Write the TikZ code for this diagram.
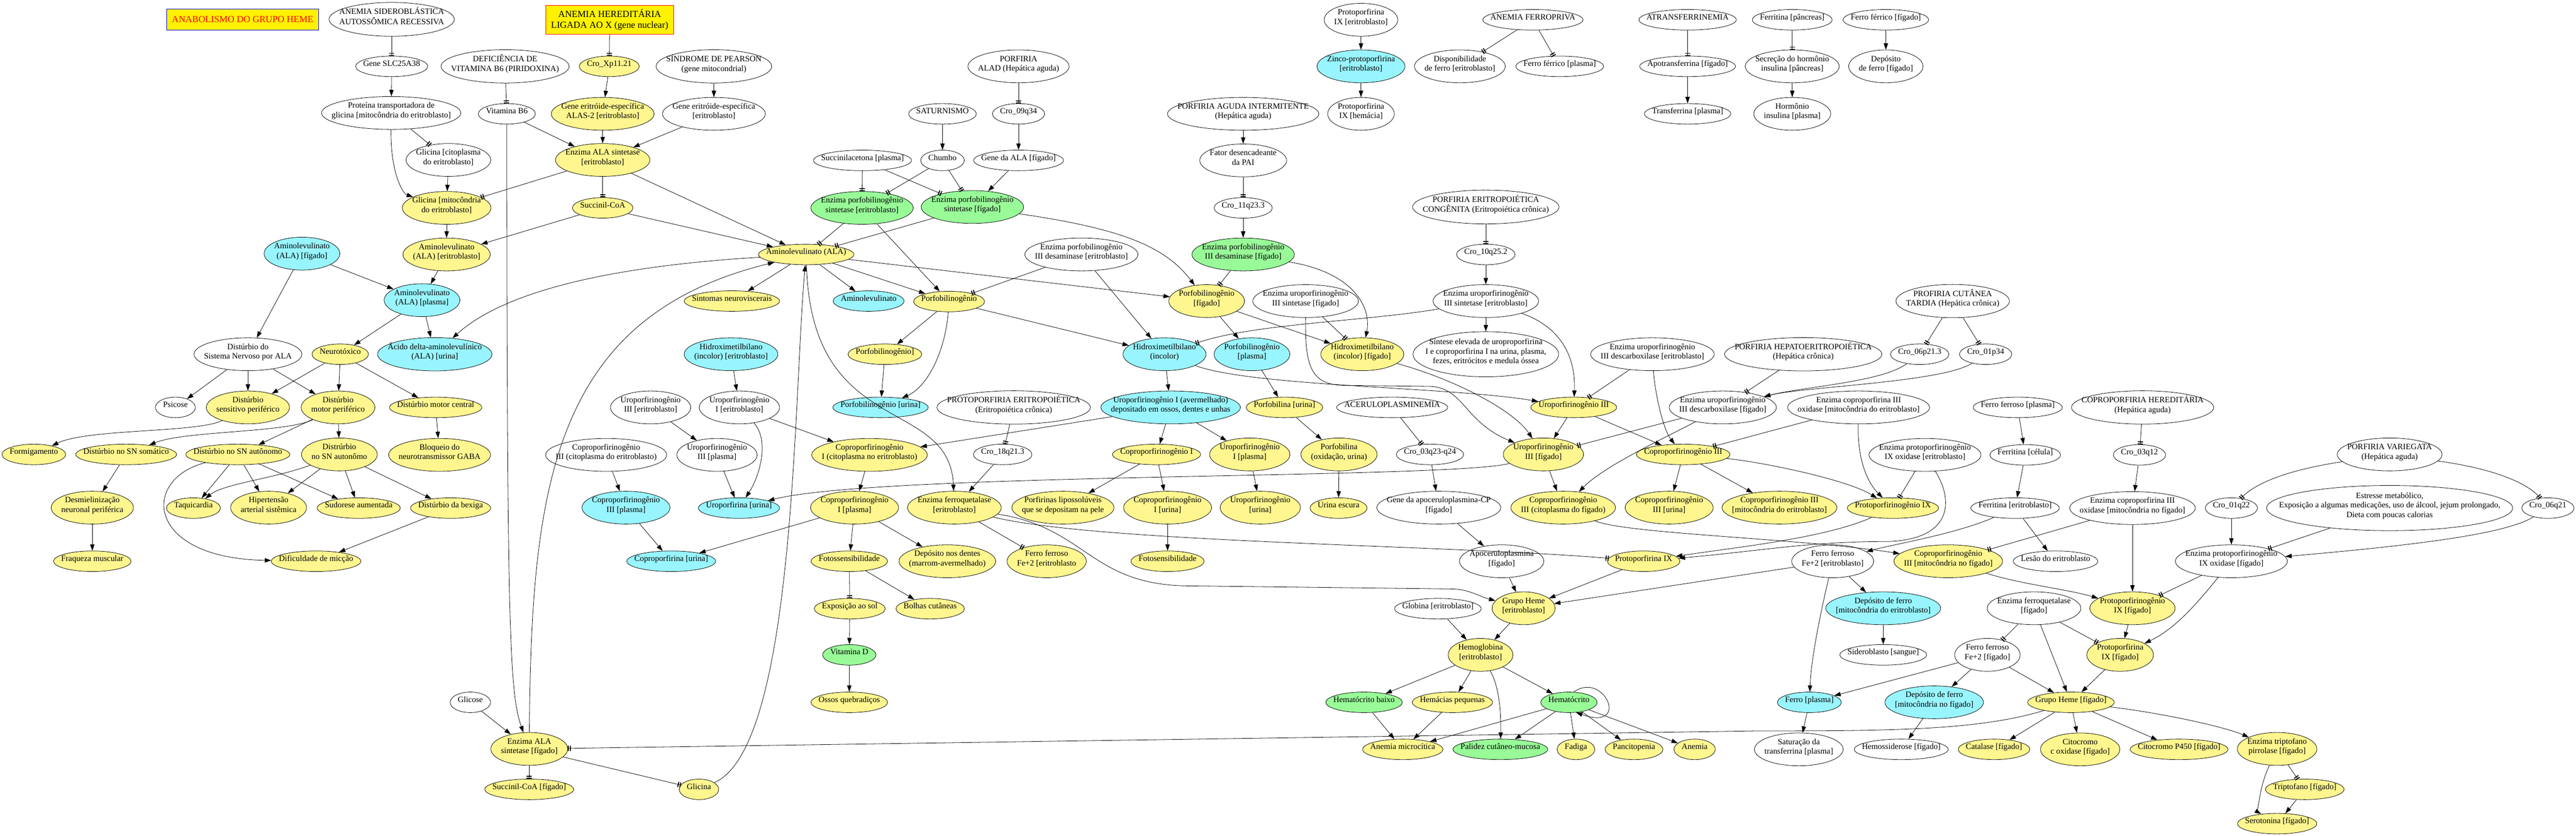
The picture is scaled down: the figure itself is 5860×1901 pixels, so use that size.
\documentclass[tikz,border=0pt]{standalone}
\usepackage{fontspec}
\setmainfont{Liberation Serif}
\usepackage{tikz}
\usetikzlibrary{arrows.meta,shapes.geometric}
\definecolor{khaki}{HTML}{FFF68F}
\definecolor{azul}{HTML}{98F5FF}
\definecolor{verde}{HTML}{98FB98}
\newsavebox{\gvbox}
\newlength{\gvw}
\newlength{\gvh}
\newlength{\gvr}
% texto do no: mede as linhas e fixa a elipse (como no graphviz)
\newcommand{\elbody}[1]{%
  \setbox\gvbox\hbox{\begin{tabular}{@{}c@{}}#1\end{tabular}}%
  \global\gvr=\dimexpr\ht\gvbox+\dp\gvbox\relax
  \global\gvw=\dimexpr\wd\gvbox+18pt+\gvr/2\relax
  \global\gvh=\dimexpr14pt+\gvr*129/100\relax
  \makebox[0pt]{\raisebox{\dimexpr(\dp\gvbox-\ht\gvbox)/2\relax}[0pt][0pt]{\box\gvbox}}%
}
\newcommand{\elnode}[4][]{%
  \node[gvn, #1, minimum width=\gvw, minimum height=\gvh] (#2) at (#3) {\elbody{#4}};%
}
\tikzset{gvn/.style={ellipse, draw=black, line width=0.7pt, inner sep=0pt,
            font=\fontsize{14pt}{16.3pt}\selectfont},
         am/.style={fill=khaki}, az/.style={fill=azul}, vd/.style={fill=verde},
         arr/.style={line width=0.7pt, -{Triangle[length=11pt,width=7.5pt]}},
         tee2/.style={line width=0.7pt,
            -{Bar[width=9pt,line width=1.6pt,sep=2pt]Bar[width=9pt,line width=1.6pt]}},
         caixa/.style={rectangle, fill=yellow, inner xsep=9pt, align=center,
            font=\fontsize{16pt}{18.6pt}\selectfont}}

\begin{document}
\fontsize{14pt}{16.3pt}\selectfont
\begin{tikzpicture}[x=0.75pt, y=-0.75pt]
\path[use as bounding box, fill=white] (0,0) rectangle (5860,1901);

\node[caixa, draw=blue, text=red, minimum height=36pt] (titulo) at (552,44) {ANABOLISMO DO GRUPO HEME};
\node[caixa, draw=red, inner ysep=7pt] (anhx) at (1387,45) {ANEMIA HEREDITÁRIA\\LIGADA AO X (gene nuclear)};

% sistema nervoso
\elnode{asar}{891,44}{ANEMIA SIDEROBLÁSTICA\\AUTOSSÔMICA RECESSIVA}
\elnode{slc}{891,151}{Gene SLC25A38}
\elnode{ptg}{890,257}{Proteína transportadora de\\glicina [mitocôndria do eritroblasto]}
\elnode{glic}{1020,364}{Glicina [citoplasma\\do eritroblasto]}
\elnode[am]{glim}{1016,473}{Glicina [mitocôndria\\do eritroblasto]}
\elnode[am]{alae}{1016,579}{Aminolevulinato\\(ALA) [eritroblasto]}
\elnode[az]{alaf}{687,577}{Aminolevulinato\\(ALA) [fígado]}
\elnode[az]{alap}{960,683}{Aminolevulinato\\(ALA) [plasma]}
\elnode[az]{alau}{989,806}{Ácido delta-aminolevulínico\\(ALA) [urina]}
\elnode{dsn}{564,806}{Distúrbio do\\Sistema Nervoso por ALA}
\elnode[am]{neuro}{774,806}{Neurotóxico}
\elnode{psic}{399,927}{Psicose}
\elnode[am]{dsp}{564,927}{Distúrbio\\sensitivo periférico}
\elnode[am]{dmp}{769,927}{Distúrbio\\motor periférico}
\elnode[am]{dmc}{991,927}{Distúrbio motor central}
\elnode[am]{gaba}{1000,1035}{Bloqueio do\\neurotransmissor GABA}
\elnode[am]{form}{77,1034}{Formigamento}
\elnode[am]{snsom}{287,1034}{Distúrbio no SN somático}
\elnode[am]{snaut}{541,1034}{Distúrbio no SN autônomo}
\elnode[am]{snaut2}{772,1034}{Distrúrbio\\no SN autonômo}
\elnode[am]{desm}{210,1155}{Desmielinização\\neuronal periférica}
\elnode[am]{fraq}{210,1277}{Fraqueza muscular}
\elnode[am]{taqui}{440,1156}{Taquicardia}
\elnode[am]{hiper}{611,1155}{Hipertensão\\arterial sistêmica}
\elnode[am]{sudor}{816,1156}{Sudorese aumentada}
\elnode[am]{bexiga}{1025,1156}{Distúrbio da bexiga}
\elnode[am]{miccao}{719,1277}{Dificuldade de micção}

% ALA sintetase
\elnode{defb6}{1149,151}{DEFICIÊNCIA DE\\VITAMINA B6 (PIRIDOXINA)}
\elnode[am]{croxp}{1386,151}{Cro\_Xp11.21}
\elnode{pearson}{1624,151}{SÍNDROME DE PEARSON\\(gene mitocondrial)}
\elnode{vitb6}{1153,259}{Vitamina B6}
\elnode[am]{alas2}{1371,259}{Gene eritróide-específica\\ALAS-2 [eritroblasto]}
\elnode{geneer}{1624,259}{Gene eritróide-específica\\{}[eritroblasto]}
\elnode[am]{alase}{1371,364}{Enzima ALA sintetase\\{}[eritroblasto]}
\elnode[am]{succ}{1371,473}{Succinil-CoA}
\elnode[am]{ala}{1834,579}{Aminolevulinato (ALA)}
\elnode[am]{sintneuro}{1665,685}{Sintomas neuroviscerais}
\elnode[az]{alacy}{1976,685}{Aminolevulinato}
\elnode{succac}{1962,365}{Succinilacetona [plasma]}
\elnode[vd]{pbgse}{1961,473}{Enzima porfobilinogênio\\sintetase [eritroblasto]}
\elnode[az]{hmbe}{1663,806}{Hidroximetilbilano\\(incolor) [eritroblasto]}
\elnode{uro3e}{1480,927}{Uroporfirinogênio\\III [eritroblasto]}
\elnode{uro1e}{1682,927}{Uroporfirinogênio\\I [eritroblasto]}
\elnode[am]{pbgb}{2013,806}{Porfobilinogênio]}
\elnode[az]{pbgu}{2003,927}{Porfobilinogênio [urina]}
\elnode{copro3ce}{1379,1035}{Coproporfirinogênio\\III (citoplasma do eritroblasto)}
\elnode{uro3p}{1631,1035}{Uroporfirinogênio\\III [plasma]}
\elnode[az]{copro3p}{1424,1155}{Coproporfirinogênio\\III [plasma]}
\elnode[az]{uroporf}{1681,1156}{Uroporfirina [urina]}
\elnode[az]{coproporf}{1527,1277}{Coproporfirina [urina]}
\elnode[am]{copro1ce}{1978,1035}{Coproporfirinogênio\\I (citoplasma no eritroblasto)}
\elnode[am]{copro1p}{1944,1155}{Coproporfirinogênio\\I [plasma]}
\elnode[am]{fotos}{1932,1277}{Fotossensibilidade}
\elnode[am]{expsol}{1933,1385}{Exposição ao sol}
\elnode[vd]{vitd}{1932,1490}{Vitamina D}
\elnode[am]{ossos}{1932,1598}{Ossos quebradiços}
\elnode[am]{dentes}{2155,1277}{Depósito nos dentes\\(marrom-avermelhado)}
\elnode[am]{bolhas}{2116,1385}{Bolhas cutâneas}
\elnode{glicose}{1070,1598}{Glicose}
\elnode[am]{alasf}{1204,1704}{Enzima ALA\\sintetase [fígado]}
\elnode[am]{succf}{1204,1796}{Succinil-CoA [fígado]}
\elnode[am]{glicina}{1590,1796}{Glicina}

% porfobilinogenio
\elnode{alad}{2317,151}{PORFIRIA\\ALAD (Hepática aguda)}
\elnode{satur}{2144,259}{SATURNISMO}
\elnode{cro09}{2317,259}{Cro\_09q34}
\elnode{chumbo}{2144,365}{Chumbo}
\elnode{genealaf}{2317,365}{Gene da ALA [fígado]}
\elnode[vd]{pbgsf}{2212,471}{Enzima porfobilinogênio\\sintetase [fígado]}
\elnode[am]{pbg}{2159,686}{Porfobilinogênio}
\elnode{pbgde}{2460,579}{Enzima porfobilinogênio\\III desaminase [eritroblasto]}
\elnode[am]{pbgf}{2745,685}{Porfobilinogênio\\{}[fígado]}
\elnode{pai}{2828,259}{PORFIRIA AGUDA INTERMITENTE\\(Hepática aguda)}
\elnode{fator}{2828,365}{Fator desencadeante\\da PAI}
\elnode{cro11}{2828,473}{Cro\_11q23.3}
\elnode[vd]{pbgdf}{2828,579}{Enzima porfobilinogênio\\III desaminase [fígado]}
\elnode[az]{hmb}{2649,806}{Hidroximetilbilano\\(incolor)}
\elnode[az]{pbgp}{2848,806}{Porfobilinogênio\\{}[plasma]}
\elnode[am]{porfu}{2922,927}{Porfobilina [urina]}
\elnode[az]{uro1av}{2663,927}{Uroporfirinogênio I (avermelhado)\\depositado em ossos, dentes e unhas}
\elnode{ppe}{2306,927}{PROTOPORFIRIA ERITROPOIÉTICA\\(Eritropoiética crônica)}
\elnode{eus3f}{2970,685}{Enzima uroporfirinogênio\\III sintetase [fígado]}
\elnode{cro18}{2281,1034}{Cro\_18q21.3}
\elnode[am]{ferroqe}{2171,1155}{Enzima ferroquetalase\\{}[eritroblasto]}
\elnode[am]{porflip}{2418,1155}{Porfirinas lipossolúveis\\que se depositam na pele}
\elnode[am]{copro1}{2631,1034}{Coproporfirinogênio I}
\elnode[am]{copro1u}{2656,1155}{Coproporfirinogênio\\I [urina]}
\elnode[am]{uro1p}{2843,1034}{Uroporfirinogênio\\I [plasma]}
\elnode[am]{urou}{2867,1155}{Uroporfirinogênio\\{}[urina]}
\elnode[am]{fotos2}{2656,1277}{Fotosensibilidade}
\elnode[am]{fe2e}{2381,1277}{Ferro ferroso\\Fe+2 [eritroblasto}
\elnode[am]{porfox}{3046,1034}{Porfobilina\\(oxidação, urina)}
\elnode[am]{urinaesc}{3045,1156}{Urina escura}

% uroporfirinogenio III e heme
\elnode{pp9e}{3096,45}{Protoporfirina\\IX [eritroblasto]}
\elnode[az]{zinco}{3096,151}{Zinco-protoporfirina\\{}[eritroblasto]}
\elnode{pp9h}{3096,259}{Protoporfirina\\IX [hemácia]}
\elnode{ferropriva}{3487,45}{ANEMIA FERROPRIVA}
\elnode{dispfe}{3321,151}{Disponibilidade\\de ferro [eritroblasto]}
\elnode{feplasma}{3548,151}{Ferro férrico [plasma]}
\elnode{atransf}{3839,45}{ATRANSFERRINEMIA}
\elnode{apotransf}{3839,151}{Apotransferrina [fígado]}
\elnode{transf}{3839,259}{Transferrina [plasma]}
\elnode{pec}{3380,471}{PORFIRIA ERITROPOIÉTICA\\CONGÊNITA (Eritropoiética crônica)}
\elnode{cro10}{3380,579}{Cro\_10q25.2}
\elnode{eus3e}{3380,685}{Enzima uroporfirinogênio\\III sintetase [eritroblasto]}
\elnode{sintese}{3380,806}{Síntese elevada de uroproporfirina\\I e coproporfirina I na urina, plasma,\\fezes, eritrócitos e medula óssea}
\elnode[am]{uro3}{3580,927}{Uroporfirinogênio III}
\elnode{eud3e}{3759,806}{Enzima uroporfirinogênio\\III descarboxilase [eritroblasto]}
\elnode{acer}{3167,927}{ACERULOPLASMINEMIA}
\elnode[am]{hmbf}{3099,806}{Hidroximetilbilano\\(incolor) [fígado]}
\elnode{cro03}{3253,1034}{Cro\_03q23-q24}
\elnode{geneapo}{3273,1155}{Gene da apoceruloplasmina-CP\\{}[fígado]}
\elnode{apo}{3416,1277}{Apoceruloplasmina\\{}[fígado]}
\elnode[am]{uro3f}{3511,1034}{Uroporfirinogênio\\III [fígado]}
\elnode[am]{copro3}{3829,1034}{Coproporfirinogênio III}
\elnode[am]{copro3cf}{3556,1155}{Coproporfirinogênio\\III (citoplasma do fígado)}
\elnode[am]{copro3u}{3797,1155}{Coproporfirinogênio\\III [urina]}
\elnode[am]{copro3me}{4048,1155}{Coproporfirinogênio III\\{}[mitocôndria do eritroblasto]}
\elnode[am]{pp9}{3739,1277}{Protoporfirina IX}
\elnode[am]{hemee}{3466,1384}{Grupo Heme\\{}[eritroblasto]}
\elnode{globina}{3271,1385}{Globina [eritroblasto]}
\elnode[am]{hb}{3368,1490}{Hemoglobina\\{}[eritroblasto]}
\elnode[vd]{hctb}{3103,1598}{Hematócrito baixo}
\elnode[am]{hemp}{3304,1598}{Hemácias pequenas}
\elnode[vd]{hct}{3569,1598}{Hematócrito}
\elnode[am]{anmic}{3191,1705}{Anemia microcítica}
\elnode[vd]{palidez}{3413,1705}{Palidez cutâneo-mucosa}
\elnode[am]{fadiga}{3585,1705}{Fadiga}
\elnode[am]{pancito}{3717,1705}{Pancitopenia}
\elnode[am]{anemia}{3855,1705}{Anemia}

% ferro e heme no figado
\elnode{ferpanc}{4077,45}{Ferritina [pâncreas]}
\elnode{fefig}{4290,45}{Ferro férrico [fígado]}
\elnode{secins}{4077,151}{Secreção do hormônio\\insulina [pâncreas]}
\elnode{depfef}{4290,151}{Depósito\\de ferro [fígado]}
\elnode{horm}{4077,259}{Hormônio\\insulina [plasma]}
\elnode{pct}{4442,685}{PROFIRIA CUTÂNEA\\TARDIA (Hepática crônica)}
\elnode{cro06p}{4367,806}{Cro\_06p21.3}
\elnode{cro01p}{4517,806}{Cro\_01p34}
\elnode{phe}{4102,806}{PORFIRIA HEPATOERITROPOIÉTICA\\(Hepática crônica)}
\elnode{eud3f}{3919,927}{Enzima uroporfirinogênio\\III descarboxilase [fígado]}
\elnode{ecox3e}{4228,927}{Enzima coproporfirina III\\oxidase [mitocôndria do eritroblasto]}
\elnode{feplas}{4590,927}{Ferro ferroso [plasma]}
\elnode{coproh}{4874,927}{COPROPORFIRIA HEREDITÁRIA\\(Hepática aguda)}
\elnode{eppg9e}{4379,1035}{Enzima protoporfirinogênio\\IX oxidase [eritroblasto]}
\elnode{fercel}{4607,1035}{Ferritina [célula]}
\elnode{cro03q}{4867,1035}{Cro\_03q12}
\elnode[am]{ppg9}{4306,1156}{Protoporfirinogênio IX}
\elnode{ferer}{4584,1156}{Ferritina [eritroblasto]}
\elnode{ecox3f}{4851,1156}{Enzima coproporfirina III\\oxidase [mitocôndria no fígado]}
\elnode{fe2er}{4169,1277}{Ferro ferroso\\Fe+2 [eritroblasto]}
\elnode[am]{copro3mf}{4432,1277}{Coproporfirinogênio\\III [mitocôndria no fígado]}
\elnode{lesao}{4676,1277}{Lesão do eritroblasto}
\elnode[az]{depme}{4284,1384}{Depósito de ferro\\{}[mitocôndria do eritroblasto]}
\elnode{siderob}{4284,1490}{Sideroblasto [sangue]}
\elnode{ferroqf}{4627,1384}{Enzima ferroquetalase\\{}[fígado]}
\elnode[am]{ppg9f}{4851,1384}{Protoporfirinogênio\\IX [fígado]}
\elnode[am]{pp9f}{4823,1490}{Protoporfirina\\IX [fígado]}
\elnode{fe2f}{4521,1490}{Ferro ferroso\\Fe+2 [fígado]}
\elnode[az]{feplasma2}{4116,1598}{Ferro [plasma]}
\elnode[az]{depmf}{4400,1598}{Depósito de ferro\\{}[mitocôndria no fígado]}
\elnode[am]{hemef}{4711,1598}{Grupo Heme [fígado]}
\elnode{satur2}{4092,1705}{Saturação da\\transferrina [plasma]}
\elnode{hemos}{4325,1705}{Hemossiderose [fígado]}
\elnode[am]{catal}{4536,1705}{Catalase [fígado]}
\elnode[am]{citc}{4732,1705}{Citocromo\\c oxidase [fígado]}
\elnode[am]{p450}{4957,1705}{Citocromo P450 [fígado]}
\elnode[am]{tripp}{5180,1704}{Enzima triptofano\\pirrolase [fígado]}
\elnode[am]{trip}{5243,1796}{Triptofano [fígado]}
\elnode[am]{sero}{5180,1874}{Serotonina [fígado]}
\elnode{pv}{5436,1034}{PORFIRIA VARIEGATA\\(Hepática aguda)}
\elnode{cro01q}{5076,1156}{Cro\_01q22}
\elnode{estresse}{5436,1156}{Estresse metabólico,\\Exposição a algumas medicações, uso de álcool, jejum prolongado,\\Dieta com poucas calorias}
\elnode{cro06q}{5796,1156}{Cro\_06q21}
\elnode{eppg9f}{5076,1277}{Enzima protoporfirinogênio\\IX oxidase [fígado]}

% ligacoes
\draw[tee2] (asar) -- (slc);
\draw[arr] (slc) -- (ptg);
\draw[tee2] (ptg) -- (glic);
\draw[arr] (ptg) .. controls (888,390) and (915,440) .. (glim);
\draw[arr] (glic) -- (glim);
\draw[tee2] (alase) -- (glim);
\draw[arr] (glim) -- (alae);
\draw[arr] (succ) -- (alae);
\draw[arr] (alae) -- (alap);
\draw[arr] (alaf) -- (alap);
\draw[arr] (alaf) -- (dsn);
\draw[arr] (alap) -- (neuro);
\draw[arr] (alap) -- (alau);
\draw[arr] (ala) .. controls (1400,605) and (1150,660) .. (alau);
\draw[arr] (dsn) -- (psic);
\draw[arr] (dsn) -- (dsp);
\draw[arr] (dsn) -- (dmp);
\draw[arr] (neuro) -- (dsp);
\draw[arr] (neuro) -- (dmp);
\draw[arr] (neuro) -- (dmc);
\draw[arr] (dmc) -- (gaba);
\draw[arr] (dsp) .. controls (450,985) and (200,975) .. (form);
\draw[arr] (dmp) .. controls (650,985) and (420,980) .. (snsom);
\draw[arr] (dmp) -- (snaut);
\draw[arr] (dmp) -- (snaut2);
\draw[arr] (snsom) -- (desm);
\draw[arr] (desm) -- (fraq);
\draw[arr] (snaut) -- (taqui);
\draw[arr] (snaut) -- (hiper);
\draw[arr] (snaut) -- (sudor);
\draw[arr] (snaut) .. controls (320,1090) and (330,1270) .. (miccao);
\draw[arr] (snaut2) .. controls (620,1090) and (510,1100) .. (taqui);
\draw[arr] (snaut2) -- (hiper);
\draw[arr] (snaut2) -- (sudor);
\draw[arr] (snaut2) -- (bexiga);
\draw[arr] (bexiga) -- (miccao);

\draw[tee2] (anhx) -- (croxp);
\draw[arr] (croxp) -- (alas2);
\draw[tee2] (defb6) -- (vitb6);
\draw[arr] (pearson) -- (geneer);
\draw[arr] (alas2) -- (alase);
\draw[arr] (geneer) -- (alase);
\draw[arr] (vitb6) -- (alase);
\draw[tee2] (alase) -- (succ);
\draw[arr] (succ) -- (ala);
\draw[arr] (alase) -- (ala);
\draw[arr] (vitb6) .. controls (1153,1450) and (1160,1580) .. (alasf);
\draw[arr] (alasf) .. controls (1208,1100) and (1260,720) .. (ala);
\draw[arr] (glicose) -- (alasf);
\draw[tee2] (alasf) -- (succf);
\draw[tee2] (alasf) -- (glicina);
\draw[arr] (glicina) .. controls (1810,1700) and (1805,900) .. (ala);
\draw[tee2] (hemef) .. controls (4500,1662) and (4300,1663) .. (4000,1663) -- (alasf);

\draw[tee2] (succac) -- (pbgse);
\draw[tee2] (succac) -- (pbgsf);
\draw[arr] (satur) -- (chumbo);
\draw[tee2] (chumbo) -- (pbgse);
\draw[tee2] (chumbo) -- (pbgsf);
\draw[tee2] (alad) -- (cro09);
\draw[arr] (cro09) -- (genealaf);
\draw[arr] (genealaf) -- (pbgsf);
\draw[tee2] (pbgse) -- (ala);
\draw[tee2] (pbgsf) -- (ala);
\draw[arr] (ala) -- (sintneuro);
\draw[arr] (ala) -- (alacy);
\draw[arr] (ala) -- (pbg);
\draw[arr] (ala) -- (pbgf);
\draw[arr] (ala) .. controls (1845,1000) and (2160,900) .. (ferroqe);
\draw[arr] (pbgse) -- (pbg);
\draw[tee2] (pbgde) -- (pbg);
\draw[arr] (pbgde) -- (hmb);
\draw[arr] (pbg) -- (hmb);
\draw[arr] (pbg) -- (pbgb);
\draw[arr] (pbg) .. controls (2150,800) and (2110,880) .. (pbgu);
\draw[arr] (pbgb) -- (pbgu);
\draw[arr] (pbgsf) .. controls (2550,520) and (2650,560) .. (pbgf);
\draw[arr] (pai) -- (fator);
\draw[tee2] (fator) -- (cro11);
\draw[arr] (cro11) -- (pbgdf);
\draw[tee2] (pbgdf) -- (pbgf);
\draw[arr] (pbgdf) .. controls (3080,620) and (3120,700) .. (hmbf);
\draw[arr] (pbgf) -- (pbgp);
\draw[arr] (pbgp) -- (porfu);
\draw[arr] (porfu) -- (porfox);
\draw[arr] (porfox) -- (urinaesc);
\draw[arr] (pbgf) -- (hmbf);
\draw[tee2] (eus3f) -- (hmbf);
\draw[tee2] (eus3e) .. controls (3100,732) and (2850,736) .. (hmb);
\draw[arr] (hmb) -- (uro1av);
\draw[arr] (hmb) .. controls (2850,880) and (3300,880) .. (uro3);
\draw[arr] (eus3f.south) .. controls (2968,840) and (2985,876) .. (3060,877) -- (3250,879) .. controls (3330,880) and (3330,960) .. (uro3f);
\draw[arr] (hmbf) .. controls (3300,860) and (3440,930) .. (uro3f);

\draw[arr] (hmbe) -- (uro1e);
\draw[arr] (uro1e) .. controls (1750,1000) and (1730,1080) .. (uroporf);
\draw[arr] (uro1e) -- (copro1ce);
\draw[arr] (uro3e) -- (uro3p);
\draw[arr] (uro3p) -- (uroporf);
\draw[arr] (uro3f) .. controls (3300,1090) and (2000,1075) .. (uroporf);
\draw[arr] (copro3ce) -- (copro3p);
\draw[arr] (copro3p) -- (coproporf);
\draw[arr] (copro1p) -- (coproporf);
\draw[arr] (copro1ce) -- (copro1p);
\draw[arr] (copro1p) -- (fotos);
\draw[arr] (copro1p) -- (dentes);
\draw[tee2] (fotos) -- (expsol);
\draw[arr] (expsol) -- (vitd);
\draw[arr] (vitd) -- (ossos);
\draw[arr] (fotos) -- (bolhas);
\draw[arr] (uro1av) -- (copro1ce);
\draw[arr] (uro1av) -- (copro1);
\draw[arr] (uro1av) -- (uro1p);
\draw[arr] (copro1) -- (porflip);
\draw[arr] (copro1) -- (copro1u);
\draw[arr] (copro1u) -- (fotos2);
\draw[arr] (uro1p) -- (urou);

\draw[tee2] (ppe) -- (cro18);
\draw[arr] (cro18) -- (ferroqe);
\draw[tee2] (ferroqe) -- (fe2e);
\draw[tee2] (ferroqe) .. controls (2500,1235) and (3300,1240) .. (pp9);
\draw[arr] (ferroqe) .. controls (2470,1200) and (2480,1330) .. (2700,1333) -- (3300,1340) to[out=0,in=165] (hemee);
\draw[arr] (pp9e) -- (zinco);
\draw[arr] (zinco) -- (pp9h);
\draw[tee2] (ferropriva) -- (dispfe);
\draw[tee2] (ferropriva) -- (feplasma);
\draw[tee2] (atransf) -- (apotransf);
\draw[arr] (apotransf) -- (transf);
\draw[tee2] (ferpanc) -- (secins);
\draw[arr] (secins) -- (horm);
\draw[arr] (fefig) -- (depfef);
\draw[tee2] (pec) -- (cro10);
\draw[arr] (cro10) -- (eus3e);
\draw[arr] (eus3e) -- (sintese);
\draw[arr] (eus3e) .. controls (3540,740) and (3585,800) .. (uro3);
\draw[tee2] (eud3e) -- (uro3);
\draw[arr] (eud3e) .. controls (3765,900) and (3785,980) .. (copro3);
\draw[arr] (uro3) -- (uro3f);
\draw[arr] (uro3) -- (copro3);
\draw[tee2] (acer) -- (cro03);
\draw[arr] (cro03) -- (geneapo);
\draw[arr] (geneapo) -- (apo);
\draw[arr] (apo) -- (hemee);
\draw[arr] (uro3f) -- (copro3cf);
\draw[tee2] (eud3f) -- (uro3f);
\draw[arr] (eud3f) .. controls (3780,1000) and (3650,1060) .. (copro3cf);
\draw[tee2] (phe) -- (eud3f);
\draw[tee2] (pct) -- (cro06p);
\draw[tee2] (pct) -- (cro01p);
\draw[arr] (cro06p) .. controls (4280,870) and (4100,880) .. (eud3f);
\draw[arr] (cro01p) .. controls (4420,870) and (4100,880) .. (eud3f);
\draw[tee2] (ecox3e) -- (copro3);
\draw[arr] (copro3) -- (copro3u);
\draw[arr] (copro3) -- (copro3me);
\draw[arr] (copro3) .. controls (4000,1050) and (4200,1090) .. (ppg9);
\draw[arr] (ecox3e) .. controls (4225,1050) and (4250,1100) .. (ppg9);
\draw[tee2] (eppg9e) -- (ppg9);
\draw[arr] (ppg9) .. controls (4150,1225) and (3950,1245) .. (pp9);
\draw[arr] (eppg9e) .. controls (4445,1140) and (4440,1225) .. (4300,1232) to[out=180,in=5] (pp9);
\draw[arr] (pp9) -- (hemee);
\draw[arr] (fe2er) -- (hemee);
\draw[arr] (globina) -- (hb);
\draw[arr] (hemee) -- (hb);
\draw[arr] (hb) -- (hctb);
\draw[arr] (hb) -- (hemp);
\draw[arr] (hb) .. controls (3410,1560) and (3415,1620) .. (palidez);
\draw[arr] (hb) -- (hct);
\draw[arr] (hctb) -- (anmic);
\draw[arr] (hemp) -- (anmic);
\draw[arr] (hct) -- (anmic);
\draw[arr] (hct) -- (palidez);
\draw[arr] (hct) -- (fadiga);
\draw[arr] (hct) -- (pancito);
\draw[arr] (hct) -- (anemia);
\draw[arr] (hct.65) .. controls (3650,1525) and (3710,1665) .. (hct.-55);

\draw[arr] (copro3cf) .. controls (3700,1215) and (4100,1225) .. (copro3mf);
\draw[tee2] (ecox3f) -- (copro3mf);
\draw[arr] (feplas) -- (fercel);
\draw[arr] (fercel) -- (ferer);
\draw[arr] (ferer) .. controls (4450,1215) and (4300,1240) .. (fe2er);
\draw[arr] (ferer) -- (lesao);
\draw[tee2] (coproh) -- (cro03q);
\draw[arr] (cro03q) -- (ecox3f);
\draw[arr] (ecox3f) -- (ppg9f);
\draw[arr] (copro3mf) .. controls (4600,1330) and (4700,1340) .. (ppg9f);
\draw[tee2] (eppg9f) -- (ppg9f);
\draw[arr] (eppg9f) .. controls (5000,1370) and (4950,1430) .. (pp9f);
\draw[arr] (ppg9f) -- (pp9f);
\draw[tee2] (ferroqf) -- (pp9f);
\draw[tee2] (ferroqf) -- (fe2f);
\draw[arr] (ferroqf) -- (hemef);
\draw[arr] (fe2er) -- (depme);
\draw[arr] (depme) -- (siderob);
\draw[arr] (fe2er) .. controls (4140,1400) and (4120,1500) .. (feplasma2);
\draw[arr] (fe2f) -- (feplasma2);
\draw[arr] (fe2f) -- (depmf);
\draw[arr] (fe2f) -- (hemef);
\draw[arr] (pp9f) -- (hemef);
\draw[arr] (feplasma2) -- (satur2);
\draw[arr] (depmf) -- (hemos);
\draw[arr] (hemef) -- (catal);
\draw[arr] (hemef) -- (citc);
\draw[arr] (hemef) -- (p450);
\draw[arr] (hemef) .. controls (4900,1620) and (5050,1650) .. (tripp);
\draw[tee2] (tripp) -- (trip);
\draw[arr] (tripp) .. controls (5135,1800) and (5140,1850) .. (sero);
\draw[arr] (trip) -- (sero);
\draw[tee2] (pv) .. controls (5200,1070) and (5130,1100) .. (cro01q);
\draw[tee2] (pv) .. controls (5700,1070) and (5760,1110) .. (cro06q);
\draw[arr] (cro01q) -- (eppg9f);
\draw[tee2] (estresse) -- (eppg9f);
\draw[arr] (cro06q) .. controls (5700,1215) and (5500,1240) .. (eppg9f);
\end{tikzpicture}
\end{document}
